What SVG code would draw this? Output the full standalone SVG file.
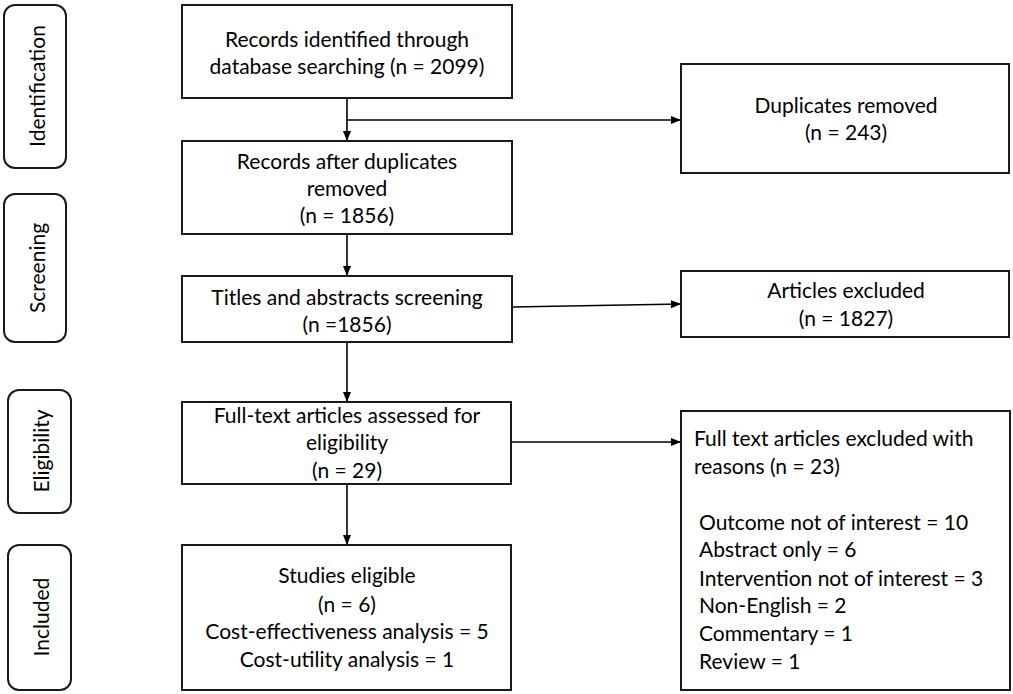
<svg xmlns="http://www.w3.org/2000/svg" width="1013" height="694" viewBox="0 0 1013 694">
<defs>
<style>
.box{fill:#fff;stroke:#1a1a1a;stroke-width:2}
.side{fill:#fff;stroke:#1a1a1a;stroke-width:2}
.t{font-family:Lato,"Liberation Sans",sans-serif;font-size:21px;fill:#000}
.c{text-anchor:middle}
.conn{stroke:#000;stroke-width:1.6;fill:none;marker-end:url(#ah)}
</style>
<marker id="ah" viewBox="0 0 10 10" refX="10" refY="5" markerWidth="10" markerHeight="10" markerUnits="userSpaceOnUse" orient="auto">
<path d="M0,1 L10,5 L0,9 Z" fill="#000"/>
</marker>
</defs>
<rect width="1013" height="694" fill="#fff"/>

<g id="phase-identification">
<rect class="side" x="4" y="5" width="62" height="163" rx="11"/>
<text class="t c" transform="rotate(-90 36 86)" x="36" y="86" dominant-baseline="central">Identification</text>
</g>
<g id="phase-screening">
<rect class="side" x="4" y="194" width="62" height="148" rx="11"/>
<text class="t c" transform="rotate(-90 36 268)" x="36" y="268" dominant-baseline="central">Screening</text>
</g>
<g id="phase-eligibility">
<rect class="side" x="8" y="390" width="63" height="123" rx="11"/>
<text class="t c" transform="rotate(-90 40 451)" x="40" y="451" dominant-baseline="central">Eligibility</text>
</g>
<g id="phase-included">
<rect class="side" x="8" y="545" width="63" height="145" rx="11"/>
<text class="t c" transform="rotate(-90 40 617)" x="40" y="617" dominant-baseline="central">Included</text>
</g>

<g id="connectors">
<path class="conn" d="M347,98 L347,141"/>
<path class="conn" d="M347,120 L681,120"/>
<path class="conn" d="M347,234 L347,276"/>
<path class="conn" d="M512,307 L681,304"/>
<path class="conn" d="M347,342 L347,402"/>
<path class="conn" d="M512,442 L681,442"/>
<path class="conn" d="M347,484 L347,545"/>
</g>

<g id="records-identified">
<rect class="box" x="182" y="5" width="330" height="93"/>
<text class="t c" x="347" y="47">Records identified through</text>
<text class="t c" x="347" y="74">database searching (n = 2099)</text>
</g>
<g id="records-after-duplicates">
<rect class="box" x="182" y="141" width="330" height="93"/>
<text class="t c" x="347" y="169">Records after duplicates</text>
<text class="t c" x="347" y="196">removed</text>
<text class="t c" x="347" y="223">(n = 1856)</text>
</g>
<g id="duplicates-removed">
<rect class="box" x="681" y="64" width="328" height="109"/>
<text class="t c" x="846" y="113">Duplicates removed</text>
<text class="t c" x="846" y="140">(n = 243)</text>
</g>
<g id="titles-screening">
<rect class="box" x="182" y="276" width="330" height="66"/>
<text class="t c" x="347" y="305">Titles and abstracts screening</text>
<text class="t c" x="347" y="332">(n =1856)</text>
</g>
<g id="articles-excluded">
<rect class="box" x="681" y="271" width="328" height="66"/>
<text class="t c" x="846" y="298">Articles excluded</text>
<text class="t c" x="846" y="326">(n = 1827)</text>
</g>
<g id="full-text-assessed">
<rect class="box" x="182" y="402" width="329" height="82"/>
<text class="t c" x="347" y="423">Full-text articles assessed for</text>
<text class="t c" x="347" y="450">eligibility</text>
<text class="t c" x="347" y="478">(n = 29)</text>
</g>
<g id="full-text-excluded">
<rect class="box" x="681" y="411" width="329" height="279"/>
<text class="t" x="694" y="446">Full text articles excluded with</text>
<text class="t" x="694" y="474">reasons (n = 23)</text>
<text class="t" x="699" y="530">Outcome not of interest = 10</text>
<text class="t" x="699" y="557">Abstract only = 6</text>
<text class="t" x="699" y="586">Intervention not of interest = 3</text>
<text class="t" x="699" y="613">Non-English = 2</text>
<text class="t" x="699" y="641">Commentary = 1</text>
<text class="t" x="699" y="669">Review = 1</text>
</g>
<g id="studies-eligible">
<rect class="box" x="182" y="545" width="329" height="145"/>
<text class="t c" x="347" y="583">Studies eligible</text>
<text class="t c" x="347" y="612">(n = 6)</text>
<text class="t c" x="347" y="639">Cost-effectiveness analysis = 5</text>
<text class="t c" x="347" y="667">Cost-utility analysis = 1</text>
</g>
</svg>
